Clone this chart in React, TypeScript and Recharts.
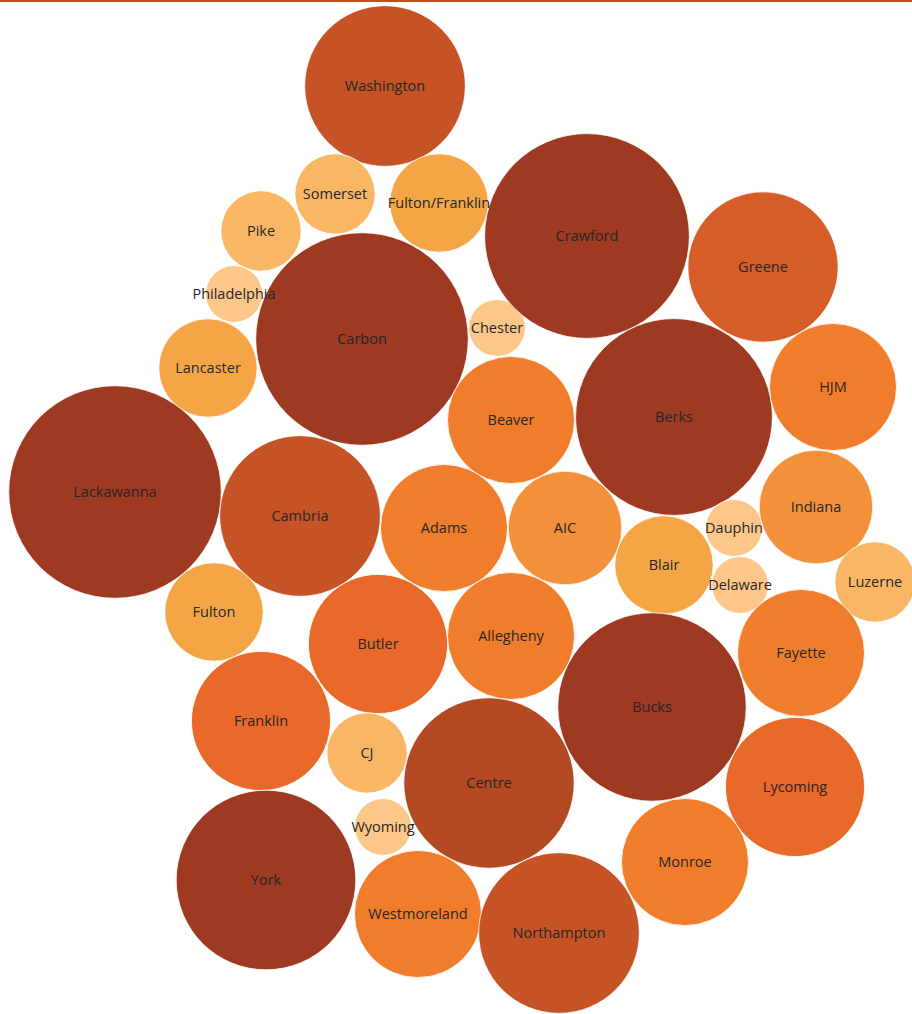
import { LabelList, Scatter, ScatterChart, XAxis, YAxis, ZAxis } from "recharts";

if (typeof document !== "undefined") {
  document.body.style.margin = "0";
}

// counties / programs, bubble centre (layout units) and count
const names = [
  "Washington", "Somerset", "Fulton/Franklin", "Pike", "Philadelphia", "Chester",
  "Lancaster", "Carbon", "Crawford", "Greene", "Berks", "HJM",
  "Beaver", "Lackawanna", "Cambria", "Adams", "AIC", "Blair",
  "Dauphin", "Delaware", "Indiana", "Luzerne", "Fulton", "Butler",
  "Allegheny", "Bucks", "Fayette", "Franklin", "CJ", "Centre",
  "Lycoming", "Wyoming", "York", "Westmoreland", "Northampton", "Monroe",
];
const xs = [
  385, 335, 439, 261, 234, 497,
  208, 362, 587, 763, 674, 833,
  511, 115, 300, 444, 565, 664,
  734, 740, 816, 875, 214, 378,
  511, 652, 801, 261, 367, 489,
  795, 383, 266, 418, 559, 685,
];
const ys = [
  86, 194, 203, 231, 294, 328,
  368, 339, 236, 267, 417, 387,
  420, 492, 516, 528, 528, 565,
  528, 585, 507, 582, 612, 644,
  636, 707, 653, 721, 753, 783,
  787, 827, 880, 914, 933, 862,
];
const counts = [
  8, 2, 3, 2, 1, 1,
  3, 14, 13, 7, 12, 5,
  5, 14, 8, 5, 4, 3,
  1, 1, 4, 2, 3, 6,
  5, 11, 5, 6, 2, 9,
  6, 1, 10, 5, 8, 5,
];

const palette: Record<number, string> = {
  1: "#fdc78a",
  2: "#f9b766",
  3: "#f4a646",
  4: "#f3913a",
  5: "#f07d2b",
  6: "#e8692a",
  7: "#d65d27",
  8: "#c55325",
  9: "#b44a24",
  10: "#9e3a22",
  11: "#9e3a22",
  12: "#9e3a22",
  13: "#9e3a22",
  14: "#9e3a22",
};

const data = names.map((name, i) => ({
  name,
  x: xs[i],
  y: ys[i],
  count: counts[i],
}));

const W = 912;
const H = 1014;
const BASE_R = 28.4;

function Bubble(props: any) {
  const { cx, cy, width, payload } = props;
  const r = (width ?? 0) / 2;
  return (
    <circle
      cx={cx}
      cy={cy}
      r={r}
      fill={palette[payload.count]}
      stroke="#ffffff"
      strokeWidth={0.8}
    />
  );
}

export default function App() {
  return (
    <div style={{ position: "relative", width: W, height: H, background: "#fff" }}>
      <div
        style={{
          position: "absolute",
          top: 0,
          left: 0,
          width: W,
          height: 2,
          background: "#c4501f",
          zIndex: 2,
        }}
      />
      <ScatterChart width={W} height={H} margin={{ top: 0, right: 0, bottom: 0, left: 0 }}>
        <XAxis type="number" dataKey="x" domain={[0, W]} hide />
        <YAxis type="number" dataKey="y" domain={[0, H]} reversed hide />
        <ZAxis
          type="number"
          dataKey="count"
          domain={[0, 14]}
          range={[0, Math.PI * BASE_R * BASE_R * 14]}
        />
        <Scatter data={data} shape={<Bubble />} isAnimationActive={false}>
          <LabelList
            dataKey="name"
            position="center"
            fill="#262626"
            fontSize={14.5}
            fontFamily="'Open Sans', 'Noto Sans', sans-serif"
          />
        </Scatter>
      </ScatterChart>
    </div>
  );
}
